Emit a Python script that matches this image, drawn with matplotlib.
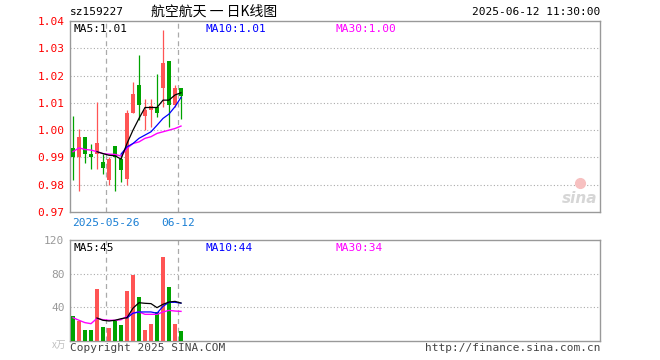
import matplotlib
matplotlib.use("Agg")
import matplotlib.pyplot as plt
import numpy as np

# daily candles (price in CNY, volume in 万)
DATES = ["05-16", "05-19", "05-20", "05-21", "05-22", "05-23", "05-26", "05-27",
         "05-28", "05-29", "05-30", "06-03", "06-04", "06-05", "06-06", "06-09",
         "06-10", "06-11", "06-12"]
OPEN = [0.9935, 0.9902, 0.9974, 0.9912, 0.9914, 0.9883, 0.9819, 0.9941, 0.9893, 0.9821,
        1.0064, 1.0165, 1.0053, 1.0074, 1.0083, 1.0153, 1.0252, 1.0093, 1.0154]
HIGH = [1.0052, 1.0005, 0.9974, 0.9951, 1.0103, 0.9914, 0.9902, 0.9941, 0.9908, 1.0074,
        1.0175, 1.0277, 1.0114, 1.0114, 1.0206, 1.0367, 1.0252, 1.0165, 1.0154]
LOW = [0.9819, 0.9777, 0.9878, 0.9857, 0.9859, 0.9839, 0.9800, 0.9777, 0.9810, 0.9800,
       1.0064, 1.0039, 1.0000, 1.0010, 1.0049, 1.0086, 1.0012, 1.0083, 1.0041]
CLOSE = [0.9902, 0.9974, 0.9914, 0.9902, 0.9952, 0.9862, 0.9894, 0.9902, 0.9853, 1.0063,
         1.0132, 1.0093, 1.0074, 1.0088, 1.0064, 1.0246, 1.0093, 1.0154, 1.0125]
VOLUME = [29.3, 23.8, 12.7, 12.7, 61.4, 16.2, 15.0, 24.2, 18.6, 59.0,
          78.4, 51.9, 12.7, 19.8, 34.5, 99.4, 63.8, 19.8, 11.5]

nan = np.nan
MA5 = [nan, nan, nan, nan, 0.9921, 0.9914, 0.9908, 0.9906, 0.9894, 0.9951,
       1.0000, 1.0043, 1.0083, 1.0083, 1.0083, 1.0110, 1.0110, 1.0129, 1.0137]
MA10 = [nan, nan, nan, nan, nan, nan, nan, nan, 0.9912, 0.9939,
        0.9951, 0.9970, 0.9982, 0.9994, 1.0018, 1.0043, 1.0059, 1.0086, 1.0120]
MA30 = [0.9921, 0.9935, 0.9929, 0.9927, 0.9921, 0.9914, 0.9912, 0.9911, 0.9905, 0.9933,
        0.9951, 0.9957, 0.9970, 0.9976, 0.9988, 0.9994, 1.0000, 1.0006, 1.0015]
VMA5 = [nan, nan, nan, nan, 27.3, 24.6, 23.8, 24.6, 26.5, 27.7,
        39.0, 45.5, 44.8, 44.4, 39.6, 43.6, 46.3, 47.1, 45.1]
VMA10 = [nan, nan, nan, nan, nan, nan, nan, nan, nan, 27.3,
         33.0, 34.5, 34.5, 34.5, 33.0, 41.2, 46.0, 46.0, 45.0]
VMA30 = [27.7, 24.6, 21.8, 20.6, 26.9, 25.3, 24.6, 24.6, 25.3, 29.3,
         33.3, 34.5, 31.7, 31.7, 31.7, 34.5, 36.4, 35.6, 35.2]

# legend texts as printed on the chart
PRICE_MA_LABELS = ["MA5:1.01", "MA10:1.01", "MA30:1.00"]
VOL_MA_LABELS = ["MA5:45", "MA10:44", "MA30:34"]

PRICE_TICKS = [0.97, 0.98, 0.99, 1.00, 1.01, 1.02, 1.03, 1.04]
VOL_TICKS = [40, 80, 120]
MARK_DATES = ["05-26", "06-12"]
MARK_LABELS = ["2025-05-26", "06-12"]

RED = "#ff5454"
GREEN = "#00a300"
BORDER = "#999999"
GRID = "#aaaaaa"
MA_COLORS = ["black", "#0000ff", "#ff00ff"]
MONO = "DejaVu Sans Mono"
CJK = ["Noto Sans CJK SC", "DejaVu Sans"]

W, H = 660, 360
fig = plt.figure(figsize=(W / 100, H / 100), dpi=100)
fig.patch.set_facecolor("white")


def box(top, bottom):
    return [70 / W, 1 - bottom / H, 530 / W, (bottom - top) / H]


ax = fig.add_axes(box(21, 212))
axv = fig.add_axes(box(240, 341))

x = np.arange(len(CLOSE))
up = [c >= o for o, c in zip(OPEN, CLOSE)]
colors = [RED if u else GREEN for u in up]
marks = [DATES.index(d) - 0.5 for d in MARK_DATES]

for a in (ax, axv):
    a.set_xlim(-0.5, 87.83)
    for s in a.spines.values():
        s.set_color(BORDER)
        s.set_linewidth(1)
    for m in marks:
        a.axvline(m, color=GRID, linestyle=(0, (4, 3)), linewidth=0.9, zorder=1)

# price panel
ax.set_ylim(0.97, 1.04)
for t in PRICE_TICKS[1:-1]:
    ax.axhline(t, color=GRID, linestyle=(0, (1, 2)), linewidth=0.8, zorder=1)
ax.vlines(x, LOW, HIGH, colors=colors, linewidth=0.9, zorder=2)
bottoms = [min(o, c) for o, c in zip(OPEN, CLOSE)]
heights = [max(abs(c - o), 0.00012) for o, c in zip(OPEN, CLOSE)]
ax.bar(x, heights, bottom=bottoms, width=0.8, color=colors, zorder=3)
ax.plot(x, MA30, color=MA_COLORS[2], linewidth=1, zorder=4)
ax.plot(x, MA10, color=MA_COLORS[1], linewidth=0.9, zorder=5)
ax.plot(x, MA5, color=MA_COLORS[0], linewidth=0.9, zorder=6)
ax.set_yticks(PRICE_TICKS)
ax.set_yticklabels([f"{t:.2f}" for t in PRICE_TICKS], fontfamily=MONO, fontsize=8)
ax.tick_params(axis="y", length=0, pad=4, labelcolor="red")
ax.set_xticks(marks)
ax.set_xticklabels(MARK_LABELS, fontfamily=MONO, fontsize=8)
ax.tick_params(axis="x", length=0, pad=4, labelcolor="#1a7fd4")

for lx, lab, col in zip([4, 135, 265], PRICE_MA_LABELS, MA_COLORS):
    ax.text(lx / 530, 0.985, lab, transform=ax.transAxes, va="top",
            fontfamily=MONO, fontsize=8, color=col)

# sina watermark
ax.text(0.995, 0.03, "sina", transform=ax.transAxes, ha="right", va="bottom",
        fontsize=11, fontweight="bold", fontstyle="italic", color="#d6d6d6")
ax.plot([0.963], [0.15], marker="o", markersize=7, color="#f7c0c0",
        transform=ax.transAxes, clip_on=False)

# volume panel
axv.set_ylim(0, 120)
for t in VOL_TICKS[:-1]:
    axv.axhline(t, color=GRID, linestyle=(0, (1, 2)), linewidth=0.8, zorder=1)
axv.bar(x, VOLUME, width=0.8, color=colors, zorder=3)
axv.plot(x, VMA30, color=MA_COLORS[2], linewidth=1, zorder=4)
axv.plot(x, VMA10, color=MA_COLORS[1], linewidth=0.9, zorder=5)
axv.plot(x, VMA5, color=MA_COLORS[0], linewidth=0.9, zorder=6)
axv.set_yticks(VOL_TICKS)
axv.set_yticklabels([str(t) for t in VOL_TICKS], fontfamily=MONO, fontsize=8)
axv.tick_params(axis="y", length=0, pad=4, labelcolor="#999999")
axv.set_xticks([])

for lx, lab, col in zip([4, 135, 265], VOL_MA_LABELS, MA_COLORS):
    axv.text(lx / 530, 0.97, lab, transform=axv.transAxes, va="top",
             fontfamily=MONO, fontsize=8, color=col)


# header / footer texts (pixel coords from top-left)
def fig_text(px, py, s, **kw):
    fig.text(px / W, 1 - py / H, s, va="center", **kw)


fig_text(70, 12, "sz159227", fontfamily=MONO, fontsize=8, color="black")
fig_text(214, 12, "航空航天 一 日K线图", ha="center", family=CJK, fontsize=10, color="black")
fig_text(600, 12, "2025-06-12 11:30:00", ha="right", fontfamily=MONO, fontsize=8, color="black")
fig_text(66, 345, "x万", ha="right", family=CJK, fontsize=7, color="#c0c0c0")
fig_text(70, 348, "Copyright 2025 SINA.COM", fontfamily=MONO, fontsize=8, color="#444444")
fig_text(600, 348, "http://finance.sina.com.cn", ha="right", fontfamily=MONO, fontsize=8,
         color="#444444")

fig.savefig("out.png", dpi=100, facecolor="white")
